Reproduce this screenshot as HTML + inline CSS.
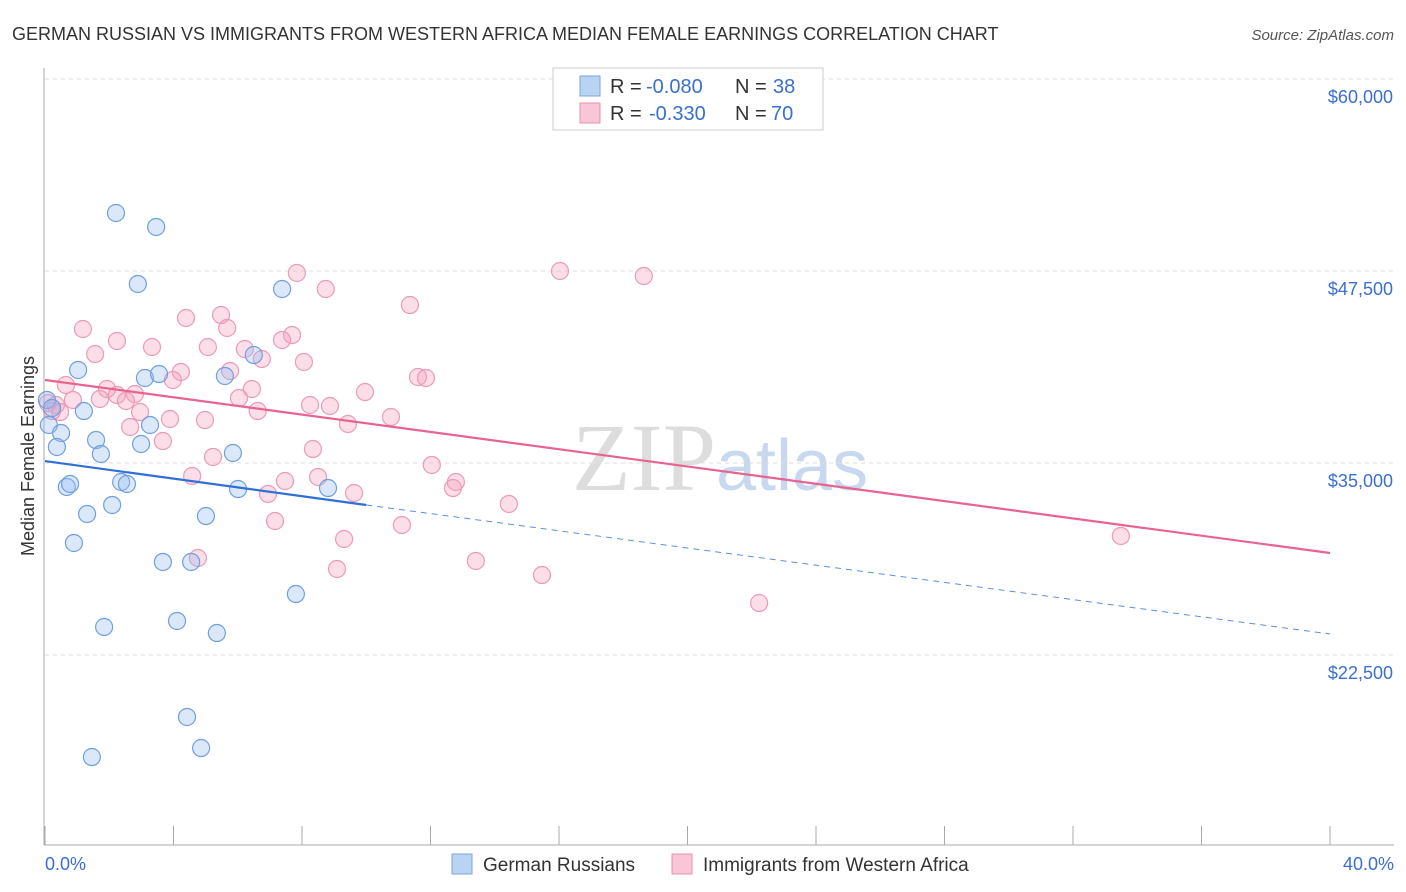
<!DOCTYPE html>
<html><head><meta charset="utf-8"><style>
body{margin:0;background:#fff;font-family:"Liberation Sans",sans-serif;}
svg{display:block}
</style></head><body>
<svg id="chart" width="1406" height="892">
<text x="12" y="40" font-size="18" fill="#333">GERMAN RUSSIAN VS IMMIGRANTS FROM WESTERN AFRICA MEDIAN FEMALE EARNINGS CORRELATION CHART</text>
<text x="1394" y="40" font-size="15" fill="#555" font-style="italic" text-anchor="end">Source: ZipAtlas.com</text>
<text x="716" y="490" font-size="96" fill="#ddd" text-anchor="end" font-family="Liberation Serif">ZIP</text>
<text x="716" y="490" font-size="72" fill="#c8d8ee">atlas</text>
<g id="grid"></g>
<line x1="44" y1="68" x2="44" y2="845" stroke="#aaa"/>
<line x1="44" y1="845" x2="1394" y2="845" stroke="#aaa"/>
<text transform="translate(34,456) rotate(-90)" font-size="18" fill="#333" text-anchor="middle">Median Female Earnings</text>
<text x="45" y="870" font-size="18" fill="#3a6fd0">0.0%</text>
<text x="1394" y="870" font-size="18" fill="#3a6fd0" text-anchor="end">40.0%</text>
<g id="pts"></g>
<g id="lines"></g>
<g font-size="20">
<rect x="553" y="68" width="270" height="62" fill="#fff" stroke="#ccc"/>
<rect x="580" y="76" width="20" height="20" fill="#b9d3f3" stroke="#7aa4e0"/>
<text x="610" y="93" fill="#333">R =</text><text x="646" y="93" fill="#3a6fd0">-0.080</text>
<text x="735" y="93" fill="#333">N =</text><text x="773" y="93" fill="#3a6fd0">38</text>
<rect x="580" y="103" width="20" height="20" fill="#f8c6d6" stroke="#e890ad"/>
<text x="610" y="120" fill="#333">R =</text><text x="649" y="120" fill="#3a6fd0">-0.330</text>
<text x="735" y="120" fill="#333">N =</text><text x="771" y="120" fill="#3a6fd0">70</text>
</g>
<g>
<rect x="452" y="854" width="20" height="20" fill="#b9d3f3" stroke="#7aa4e0"/>
<text x="483" y="871" font-size="19" fill="#333">German Russians</text>
<rect x="672" y="854" width="20" height="20" fill="#f8c6d6" stroke="#e890ad"/>
<text x="703" y="871" font-size="19" fill="#333">Immigrants from Western Africa</text>
</g>
</svg>
<script>
const yTicks=[22500,35000,47500,60000];
const yTickLabels=["$22,500","$35,000","$47,500","$60,000"];
const xTicks=[0,4,8,12,16,20,24,28,32,36,40];
const blueX=[2.21,3.46,2.89,7.38,1.03,3.11,3.55,5.60,6.50,0.06,0.22,1.21,0.12,0.50,3.27,1.59,0.37,2.99,1.74,5.85,0.68,0.78,2.37,2.55,6.01,8.81,2.09,1.31,5.01,0.90,3.67,4.55,7.81,1.84,4.11,5.35,4.42,4.86,1.46];
const blueY=[51276,50365,46654,46328,41055,40534,40794,40664,42031,39102,38581,38385,37474,36953,37474,36497,36042,36237,35586,35651,33438,33633,33763,33633,33307,33372,32266,31680,31549,29792,28555,28555,26471,24323,24714,23932,18464,16445,15859];
const pinkX=[16.03,18.64,7.84,8.74,11.36,4.39,5.48,1.18,5.67,7.69,2.24,7.38,3.33,5.07,1.56,6.22,6.75,8.06,4.23,5.76,11.61,11.86,3.98,0.65,1.93,6.44,9.96,2.80,2.24,1.71,0.87,2.52,6.04,0.34,8.25,8.87,0.47,2.96,6.62,10.77,3.89,4.98,9.43,2.65,3.67,8.34,5.23,12.04,4.58,8.50,7.47,12.79,12.70,6.94,9.62,14.44,7.16,11.11,9.31,33.49,4.76,13.41,9.09,15.47,22.23,0.09,0.22];
const pinkY=[47500,47174,47370,46328,45286,44440,44635,43724,43789,43333,42943,43008,42552,42552,42096,42422,41771,41576,40925,40990,40599,40534,40404,40078,39818,39818,39622,39492,39427,39167,39102,39037,39232,38776,38776,38711,38320,38320,38385,37995,37865,37799,37539,37344,36432,35911,35391,34870,34154,34089,33828,33763,33372,32982,33047,32331,31224,30964,30052,30248,28815,28620,28099,27708,25885,38906,38385];
const blueFit=[[0,35125],[10,32266]], blueDash=[[10,32266],[40,23867]];
const pinkFit=[[0,40404],[40,29141]];
const X=v=>45+v/40*1285, Y=v=>79+(60000-v)/12500*192;
const NS="http://www.w3.org/2000/svg";
const mk=(t,a,p)=>{const e=document.createElementNS(NS,t);for(const k in a)e.setAttribute(k,a[k]);p.appendChild(e);return e;};
const grid=document.getElementById('grid');
yTicks.forEach((v,i)=>{
 const l=mk('line',{x1:45,x2:1394,y1:Y(v),y2:Y(v),stroke:'#ddd','stroke-dasharray':'4,4'},grid);
 
 
 const t=mk('text',{x:1393,y:Y(v)+24,'font-size':18,fill:'#3a6fd0','text-anchor':'end'},grid);
 t.textContent=yTickLabels[i];
 
 
});
xTicks.forEach(v=>{
 const l=mk('line',{x1:X(v),x2:X(v),y1:826,y2:845,stroke:'#aaa'},grid);
 
 
});
const pts=document.getElementById('pts');
pinkX.forEach((x,i)=>{
 const c=mk('circle',{cx:X(x),cy:Y(pinkY[i]),r:8.5,fill:'rgba(244,160,190,0.35)',stroke:'#ec9ab6','stroke-width':1.2},pts);
 
 
});
blueX.forEach((x,i)=>{
 const c=mk('circle',{cx:X(x),cy:Y(blueY[i]),r:8.5,fill:'rgba(150,190,240,0.35)',stroke:'#6f9fe0','stroke-width':1.2},pts);
 
 
});
const lines=document.getElementById('lines');
const ln=(p,attrs,name)=>{const l=mk('line',Object.assign({x1:X(p[0][0]),y1:Y(p[0][1]),x2:X(p[1][0]),y2:Y(p[1][1])},attrs),lines);
 
 };
ln(pinkFit,{stroke:'#e8648f','stroke-width':2.2},'pink-trend-line');
ln(blueFit,{stroke:'#2f6fd6','stroke-width':2.2},'blue-trend-line');
ln(blueDash,{stroke:'#5b8fdc','stroke-width':1,'stroke-dasharray':'6,5'},'blue-trend-extension');
</script>
</body></html>
